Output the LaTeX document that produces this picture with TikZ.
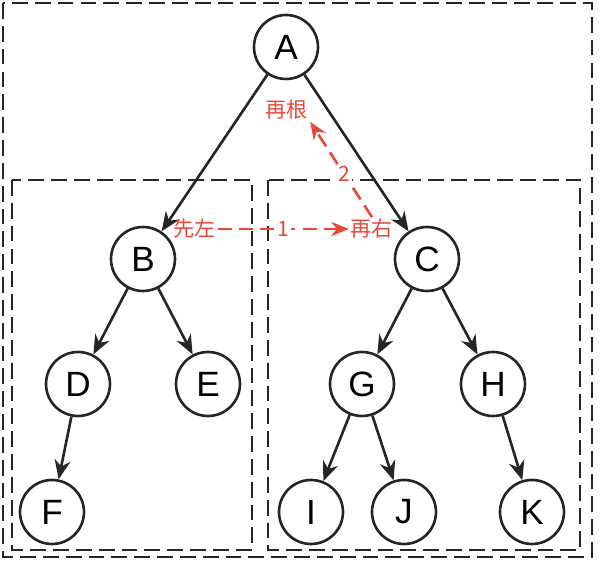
\documentclass[tikz,border=0pt]{standalone}
\usepackage{fontspec}
\setmainfont{Liberation Sans}
\newfontfamily\cjk{Noto Sans CJK SC}
\usetikzlibrary{arrows.meta,positioning}
\definecolor{notered}{RGB}{232,72,58}
\begin{document}
\begin{tikzpicture}[
    x=0.02cm, y=-0.02cm,
    tnode/.style={circle, draw=black!85, line width=1.5pt, minimum size=1.28cm, inner sep=0pt, font=\fontsize{20}{24}\selectfont},
    edge/.style={-{Stealth[length=11pt,width=9pt]}, line width=1.5pt, black!85},
    frame/.style={draw=black!85, line width=1.6pt, dash pattern=on 9pt off 4pt},
    note/.style={font=\cjk\fontsize{12}{14}\selectfont, text=notered, inner sep=1pt},
    rarrow/.style={-{Stealth[length=10pt,width=8pt]}, line width=1.5pt, notered, dash pattern=on 8pt off 4pt}
]
\useasboundingbox (0,0) rectangle (600,564);

% === FRAMES ===
\draw[frame] (3,3) rectangle (592,557);
\draw[frame] (12,180) rectangle (252,550);
\draw[frame] (268,180) rectangle (580,550);

% === NODES ===
\node[tnode] (A) at (286,47) {A};
\node[tnode] (B) at (143,259) {B};
\node[tnode] (C) at (427,259) {C};
\node[tnode] (D) at (78,384) {D};
\node[tnode] (E) at (208,384) {E};
\node[tnode] (F) at (52,512) {F};
\node[tnode] (G) at (362,384) {G};
\node[tnode] (H) at (493,384) {H};
\node[tnode] (I) at (311,512) {I};
\node[tnode] (J) at (404,512) {J};
\node[tnode] (K) at (532,512) {K};

% === EDGES ===
\draw[edge] (A) -- (B);
\draw[edge] (A) -- (C);
\draw[edge] (B) -- (D);
\draw[edge] (B) -- (E);
\draw[edge] (D) -- (F);
\draw[edge] (C) -- (G);
\draw[edge] (C) -- (H);
\draw[edge] (G) -- (I);
\draw[edge] (G) -- (J);
\draw[edge] (H) -- (K);

% === ORDER NOTES ===
\node[note] (root) at (287,110) {再根};
\node[note] (left) at (195,229) {先左};
\node[note] (right) at (372,229) {再右};

\draw[rarrow] (left) -- node[note, fill=white] {1} (right);
\draw[rarrow] (right.north) -- node[note, pos=0.45, fill=white] {2} (root.south east);

\end{tikzpicture}
\end{document}
